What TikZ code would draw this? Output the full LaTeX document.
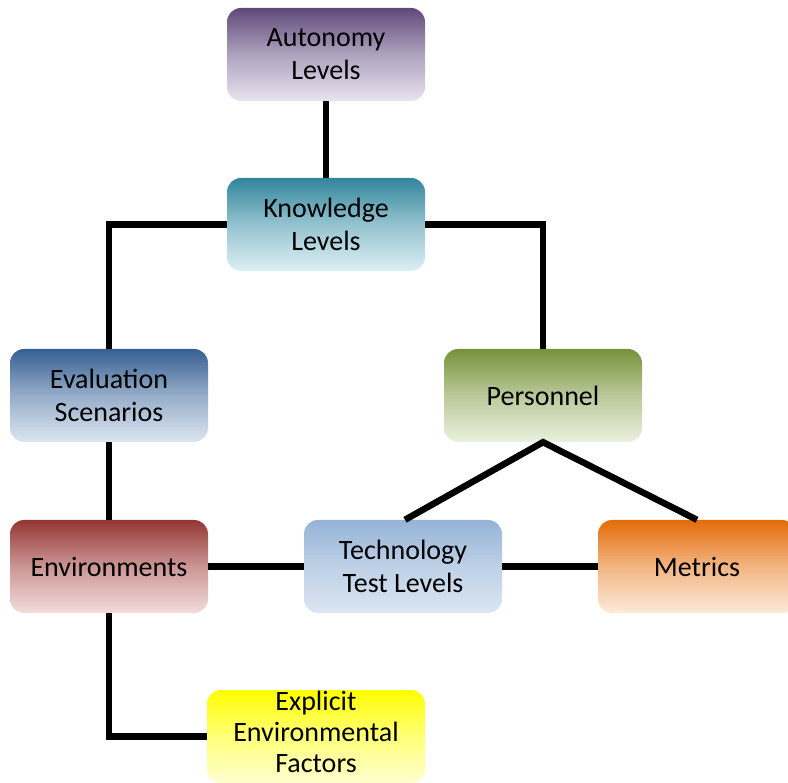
\documentclass[tikz,border=0pt]{standalone}
\usepackage{fontspec}
\setmainfont{Carlito}
\definecolor{autoTop}{HTML}{5F497A}\definecolor{autoBot}{HTML}{E8E3EF}
\definecolor{knowTop}{HTML}{31859C}\definecolor{knowBot}{HTML}{DDF0F5}
\definecolor{evalTop}{HTML}{365F91}\definecolor{evalBot}{HTML}{DCE6F2}
\definecolor{persTop}{HTML}{76923C}\definecolor{persBot}{HTML}{EBF1DE}
\definecolor{envTop}{HTML}{943634}\definecolor{envBot}{HTML}{F2DCDB}
\definecolor{techTop}{HTML}{95B3D7}\definecolor{techBot}{HTML}{DCE6F2}
\definecolor{metrTop}{HTML}{E36C09}\definecolor{metrBot}{HTML}{FDEADA}
\definecolor{explTop}{HTML}{FFFF00}\definecolor{explBot}{HTML}{FFFFD0}
\tikzset{
  box/.style={rectangle, rounded corners=14pt, minimum width=198pt,
    minimum height=93pt, inner sep=0pt, align=center,
    font=\fontsize{28}{33}\selectfont},
  grad/.style 2 args={top color=#1, bottom color=#2, middle color=#1!42!#2},
  link/.style={line width=6.5pt, black}
}
\begin{document}
\begin{tikzpicture}[x=1pt,y=-1pt]
\useasboundingbox (0,0) rectangle (788,783);

% boxes
\node[box, grad={autoTop}{autoBot}] (auto) at (326,54.5) {Autonomy\\Levels};
\node[box, grad={knowTop}{knowBot}] (know) at (326,224.5) {Knowledge\\Levels};
\node[box, grad={evalTop}{evalBot}] (eval) at (109,395.5) {Evaluation\\Scenarios};
\node[box, grad={persTop}{persBot}] (pers) at (543,395.5) {Personnel};
\node[box, grad={envTop}{envBot}] (env) at (109,566.5) {Environments};
\node[box, grad={techTop}{techBot}] (tech) at (403,566.5) {Technology\\Test Levels};
\node[box, grad={metrTop}{metrBot}] (metr) at (697,566.5) {Metrics};
\node[box, minimum width=218pt, font=\fontsize{28}{31}\selectfont,
  grad={explTop}{explBot}] (expl) at (316,736.5) {Explicit\\Environmental\\Factors\strut};

% connectors
\draw[link] (auto.south) -- (know.north);
\draw[link] (know.west) -| (eval.north);
\draw[link] (know.east) -| (pers.north);
\draw[link] (eval.south) -- (env.north);
\draw[link] (env.east) -- (tech.west);
\draw[link] (tech.east) -- (metr.west);
\draw[link] ([xshift=2pt]tech.north) -- (pers.south) -- (metr.north);
\draw[link] (env.south) |- (expl.west);
\end{tikzpicture}
\end{document}
